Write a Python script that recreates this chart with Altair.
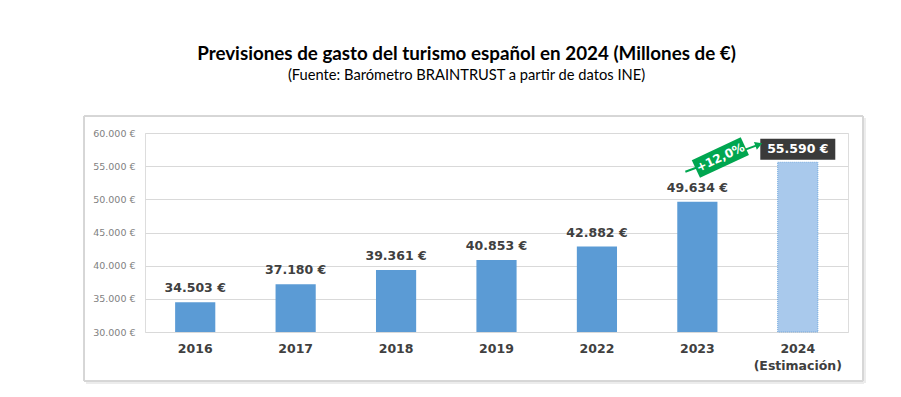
import altair as alt
import pandas as pd

years = ["2016", "2017", "2018", "2019", "2022", "2023", "2024"]
values = [34503, 37180, 39361, 40853, 42882, 49634, 55590]
estimate = [False, False, False, False, False, False, True]
growth_label = ["+12,0%"]

df = pd.DataFrame({"year": years, "value": values, "est": estimate})

fmt = "replace(format(datum.value, ','), ',', '.') + ' €'"

x_axis = alt.Axis(labelAngle=0, domain=False, ticks=False, labelPadding=10,
                  labelFont="DejaVu Sans", labelFontWeight="bold", labelFontSize=12.5,
                  labelColor="#404040", labelLineHeight=17, labelBaseline="top",
                  labelExpr="datum.value == '2024' ? ['2024', '(Estimación)'] : datum.value")
x_scale = alt.Scale(paddingInner=0.6, paddingOuter=0.3)
y_axis = alt.Axis(values=[30000, 35000, 40000, 45000, 50000, 55000, 60000],
                  domain=False, ticks=False, labelPadding=10, labelOverlap=False,
                  labelFont="DejaVu Sans", labelFontSize=9.5, labelColor="#7f7f7f",
                  labelExpr=fmt, gridColor="#d9d9d9", gridWidth=1)
y_scale = alt.Scale(domain=[30000, 60000], nice=False, zero=False)


def XX(field):
    return alt.X(field, sort=years, title=None, scale=x_scale, axis=x_axis)


def YY(field):
    return alt.Y(field, title=None, scale=y_scale, axis=y_axis)


X = XX("year:N")
Y = YY("value:Q")
Y2 = alt.Y2(datum=30000)

base = alt.Chart(df)

frame = base.mark_rect(fill="transparent", stroke="#d6d6d6", strokeWidth=1).encode(
    x=alt.value(-61), x2=alt.value(718), y=alt.value(-17), y2=alt.value(248))
frame_shadow = base.mark_rule(color="#ececec", strokeWidth=2).encode(
    x=alt.value(-59), x2=alt.value(719), y=alt.value(249.5))
frame_shadow_r = base.mark_rule(color="#ececec", strokeWidth=2).encode(
    x=alt.value(719.5), y=alt.value(-15), y2=alt.value(250))

bars = base.transform_filter("!datum.est").mark_bar(color="#5b9bd5").encode(x=X, y=Y, y2=Y2)
est_bar = base.transform_filter("datum.est").mark_bar(
    color="#a9c9ec", stroke="#6fa6dc", strokeWidth=1, strokeDash=[1, 1]).encode(x=X, y=Y, y2=Y2)

labels = base.transform_filter("!datum.est").transform_calculate(lbl=fmt).mark_text(
    baseline="bottom", dy=-7, font="DejaVu Sans", fontWeight="bold", fontSize=12.5,
    color="#404040").encode(x=X, y=Y, text="lbl:N")

est_box = base.transform_filter("datum.est").mark_point(
    shape="M-1,-0.28L1,-0.28L1,0.28L-1,0.28Z", size=75 * 75, filled=True, opacity=1,
    color="#3a3a3a", yOffset=-13).encode(x=X, y=Y)
est_label = base.transform_filter("datum.est").transform_calculate(lbl=fmt).mark_text(
    baseline="middle", dy=-13, font="DejaVu Sans", fontWeight="bold", fontSize=12.5,
    color="white").encode(x=X, y=Y, text="lbl:N")

arrow_df = pd.DataFrame({"x": ["2023"], "x2": ["2024"], "y": [54150], "y2": [58250],
                         "ly": [56300], "lbl": growth_label})
arrow = alt.Chart(arrow_df).mark_rule(color="#00a650", strokeWidth=2, xOffset=-12,
                                      x2Offset=-39).encode(
    x=XX("x:N"), x2="x2", y=YY("y:Q"), y2="y2:Q")
head = alt.Chart(arrow_df).mark_point(shape="triangle-right", filled=True, opacity=1,
                                      color="#00a650", size=70, angle=340,
                                      xOffset=-39).encode(
    x=XX("x2:N"), y=YY("y2:Q"))
gbox = alt.Chart(arrow_df).mark_point(shape="M-1,-0.36L1,-0.36L1,0.36L-1,0.36Z",
                                      size=54 * 54, filled=True, opacity=1,
                                      color="#00a650", angle=335, xOffset=23).encode(
    x=XX("x:N"), y=YY("ly:Q"))
gtext = alt.Chart(arrow_df).mark_text(font="DejaVu Sans", fontWeight="bold", fontSize=12,
                                      color="white", angle=335, xOffset=23, baseline="middle",
                                      align="center").encode(
    x=XX("x:N"), y=YY("ly:Q"), text="lbl:N")

chart = alt.layer(frame_shadow, frame_shadow_r, frame, bars, est_bar, labels, est_box,
                  est_label, arrow, head, gbox, gtext).properties(
    width=703, height=199,
    autosize=alt.AutoSizeParams(type="none"),
    padding={"left": 137, "top": 125, "right": 45, "bottom": 57},
    title=alt.TitleParams(
        text="Previsiones de gasto del turismo español en 2024 (Millones de €)",
        subtitle="(Fuente: Barómetro BRAINTRUST a partir de datos INE)",
        font="Lato", fontSize=18.8, fontWeight="bold", color="black",
        subtitleFont="Lato", subtitleFontSize=14.7, subtitleColor="black",
        anchor="middle", dx=-30, offset=33, subtitlePadding=4)
).configure_view(stroke=None).configure(background="white")

chart.save("out.html", embed_options={"renderer": "svg", "actions": False})
